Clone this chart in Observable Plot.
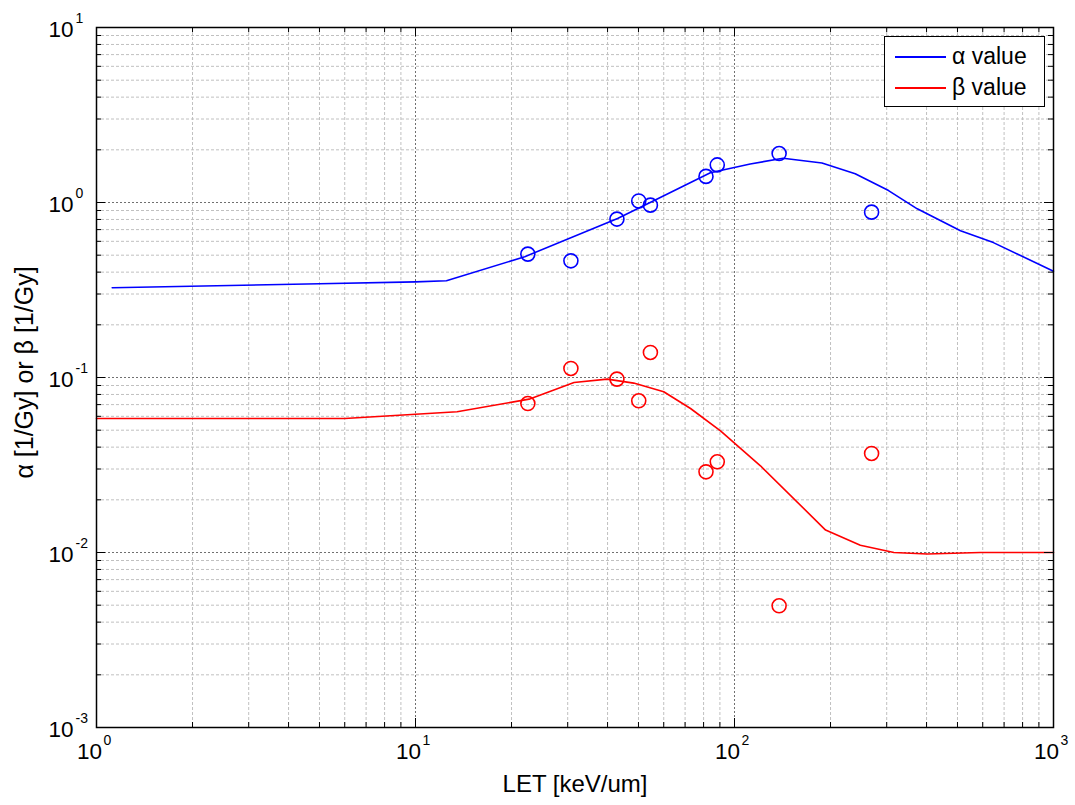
<!DOCTYPE html>
<html>
<head>
<meta charset="utf-8">
<script src="https://cdn.jsdelivr.net/npm/d3@7"></script>
<script src="https://cdn.jsdelivr.net/npm/@observablehq/plot@0.6"></script>
<style>
  html, body { margin: 0; padding: 0; background: #fff; }
  #wrap { position: relative; width: 1075px; height: 805px; font-family: "Liberation Sans", Arial, Helvetica, sans-serif; }
  #legend { position: absolute; left: 884px; top: 36px; width: 161px; height: 71px; border: 1.5px solid #000; background: #fff; box-sizing: border-box; }
  .lg-row { position: absolute; left: 0; height: 24px; }
  .lg-line { position: absolute; left: 10px; width: 51px; height: 2px; }
  .lg-text { position: absolute; left: 67px; font-size: 23px; white-space: nowrap; line-height: 23px; }
</style>
</head>
<body>
<div id="wrap"></div>
<script>
// ---- data ----
const alphaCurveLET = [1.12, 5, 10, 12.5, 22, 43, 55, 84, 112, 142, 188, 239, 304, 374, 511, 648, 1000];
const alphaCurveVal = [0.326, 0.343, 0.352, 0.357, 0.49, 0.81, 1.01, 1.48, 1.66, 1.79, 1.68, 1.46, 1.17, 0.92, 0.69, 0.59, 0.405];

const betaCurveLET = [1.0, 6.0, 13.5, 22.7, 31.4, 39.9, 48.3, 60, 72.8, 90.4, 120.6, 193, 248, 316, 402, 590, 1000];
const betaCurveVal = [0.0583, 0.0583, 0.0637, 0.0752, 0.0936, 0.0979, 0.0929, 0.0829, 0.0665, 0.0496, 0.0313, 0.01343, 0.0110, 0.0100, 0.0098, 0.0100, 0.0100];

const expLET   = [22.5, 30.7, 42.8, 50.1, 54.5, 81.4, 88.3, 138, 269];
const alphaExp = [0.507, 0.464, 0.804, 1.02, 0.966, 1.41, 1.64, 1.905, 0.881];
const betaExp  = [0.0710, 0.1126, 0.0979, 0.0736, 0.139, 0.0289, 0.033, 0.00496, 0.0368];

const xTickExp = [0, 1, 2, 3];
const yTickExp = [-3, -2, -1, 0, 1];
const minorMult = [2, 3, 4, 5, 6, 7, 8, 9];

const seriesNames = ["α value", "β value"];
const seriesColors = ["#0000ff", "#ff0000"];
const xLabel = "LET [keV/um]";
const yLabel = "α [1/Gy] or β [1/Gy]";

// ---- derived tables ----
const alphaCurve = alphaCurveLET.map((x, i) => ({x, y: alphaCurveVal[i]}));
const betaCurve = betaCurveLET.map((x, i) => ({x, y: betaCurveVal[i]}));
const alphaPts = expLET.map((x, i) => ({x, y: alphaExp[i]}));
const betaPts = expLET.map((x, i) => ({x, y: betaExp[i]}));

const xMajor = xTickExp.map(e => Math.pow(10, e));
const yMajor = yTickExp.map(e => Math.pow(10, e));
const xMinor = xTickExp.slice(0, -1).flatMap(e => minorMult.map(m => m * Math.pow(10, e)));
const yMinor = yTickExp.slice(0, -1).flatMap(e => minorMult.map(m => m * Math.pow(10, e)));
const xMajorInner = xMajor.slice(1, -1);
const yMajorInner = yMajor.slice(1, -1);

const W = 1075, H = 805, mL = 96, mR = 22, mT = 27, mB = 78;
const pW = W - mL - mR, pH = H - mT - mB;
const font = "'Liberation Sans', Arial, Helvetica, sans-serif";

const chart = Plot.plot({
  width: W, height: H,
  marginLeft: mL, marginRight: mR, marginTop: mT, marginBottom: mB,
  style: {fontFamily: font, background: "#fff", color: "#000"},
  x: {type: "log", domain: [1, 1000], axis: null},
  y: {type: "log", domain: [1e-3, 10], axis: null},
  marks: [
    // grid
    Plot.ruleX(xMinor, {stroke: "#c0c0c0", strokeDasharray: "3,2", strokeWidth: 1}),
    Plot.ruleY(yMinor, {stroke: "#c0c0c0", strokeDasharray: "3,2", strokeWidth: 1}),
    Plot.ruleX(xMajorInner, {stroke: "#707070", strokeDasharray: "2,2", strokeWidth: 1}),
    Plot.ruleY(yMajorInner, {stroke: "#707070", strokeDasharray: "2,2", strokeWidth: 1}),
    // curves
    Plot.line(alphaCurve, {x: "x", y: "y", stroke: seriesColors[0], strokeWidth: 1.6}),
    Plot.line(betaCurve, {x: "x", y: "y", stroke: seriesColors[1], strokeWidth: 1.6}),
    // experimental points
    Plot.dot(alphaPts, {x: "x", y: "y", r: 7, stroke: seriesColors[0], strokeWidth: 1.6, fill: "none"}),
    Plot.dot(betaPts, {x: "x", y: "y", r: 7, stroke: seriesColors[1], strokeWidth: 1.6, fill: "none"}),
    // inward ticks: minor
    Plot.ruleX(xMinor, {insetTop: pH - 5, stroke: "#000"}),
    Plot.ruleX(xMinor, {insetBottom: pH - 5, stroke: "#000"}),
    Plot.ruleY(yMinor, {insetRight: pW - 5, stroke: "#000"}),
    Plot.ruleY(yMinor, {insetLeft: pW - 5, stroke: "#000"}),
    // inward ticks: major
    Plot.ruleX(xMajorInner, {insetTop: pH - 9, stroke: "#000"}),
    Plot.ruleX(xMajorInner, {insetBottom: pH - 9, stroke: "#000"}),
    Plot.ruleY(yMajorInner, {insetRight: pW - 9, stroke: "#000"}),
    Plot.ruleY(yMajorInner, {insetLeft: pW - 9, stroke: "#000"}),
    Plot.frame({stroke: "#000", strokeWidth: 1.5}),
    // x tick labels
    Plot.text(xMajor, {x: d => d, frameAnchor: "bottom", text: () => "10", dx: -7, dy: 31, fontSize: 22.5, textAnchor: "middle", fill: "#000"}),
    Plot.text(xMajor, {x: d => d, frameAnchor: "bottom", text: (d, i) => String(xTickExp[i]), dx: 7, dy: 17, fontSize: 14, textAnchor: "start", fill: "#000"}),
    // y tick labels
    Plot.text(yMajor, {y: d => d, frameAnchor: "left", text: () => "10", dx: -23, dy: 2, fontSize: 22.5, textAnchor: "end", fill: "#000"}),
    Plot.text(yMajor, {y: d => d, frameAnchor: "left", text: (d, i) => String(yTickExp[i]), dx: -21, dy: -9, fontSize: 14, textAnchor: "start", fill: "#000"}),
    // axis titles
    Plot.text([xLabel], {frameAnchor: "bottom", text: d => d, dy: 64, fontSize: 24, textAnchor: "middle", fill: "#000"}),
    Plot.text([yLabel], {frameAnchor: "left", text: d => d, dx: -72, dy: -5, rotate: -90, fontSize: 25, textAnchor: "middle", fill: "#000"})
  ]
});

const wrap = document.getElementById("wrap");
wrap.appendChild(chart);

// legend overlay
const legend = document.createElement("div");
legend.id = "legend";
seriesNames.forEach((name, i) => {
  const row = document.createElement("div");
  row.className = "lg-row";
  row.style.top = (8 + i * 31) + "px";
  row.style.width = "100%";
  const ln = document.createElement("div");
  ln.className = "lg-line";
  ln.style.background = seriesColors[i];
  ln.style.top = "11px";
  const tx = document.createElement("div");
  tx.className = "lg-text";
  tx.style.top = "0px";
  tx.textContent = name;
  row.appendChild(ln);
  row.appendChild(tx);
  legend.appendChild(row);
});
wrap.appendChild(legend);
</script>
</body>
</html>
